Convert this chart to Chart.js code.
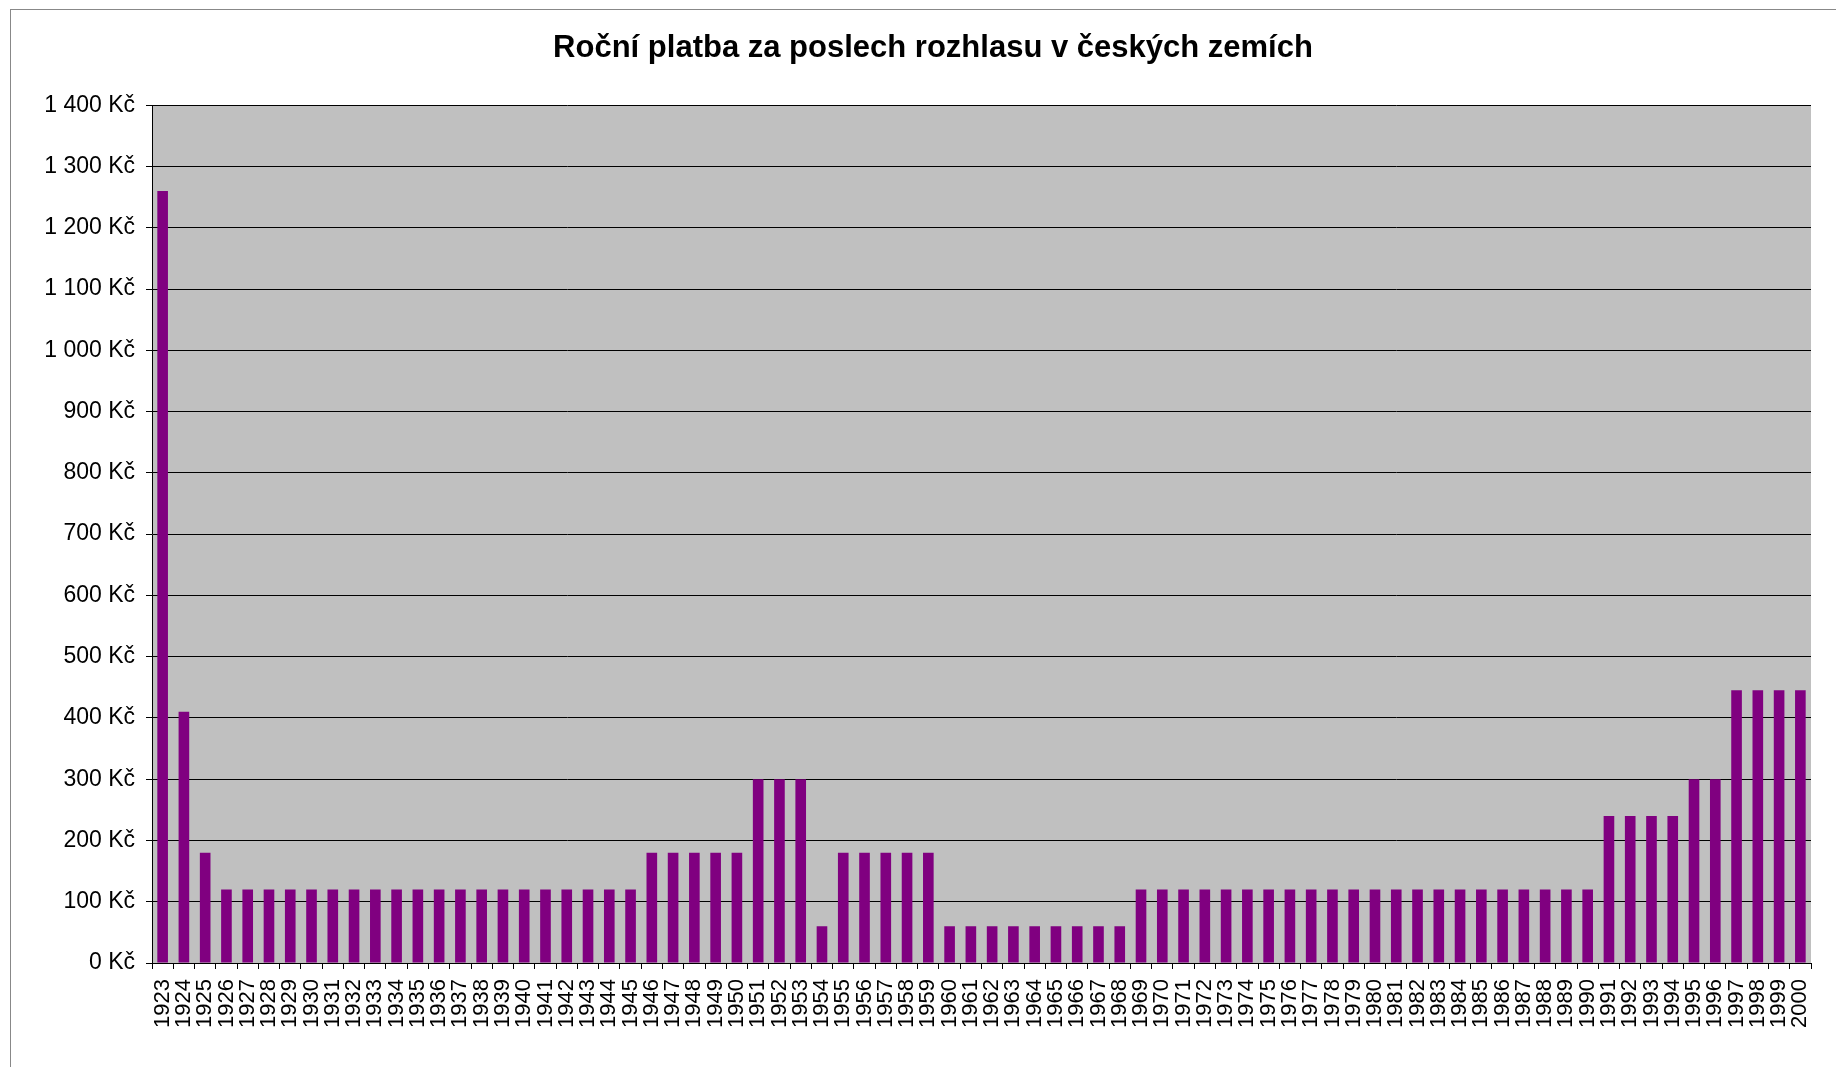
<!DOCTYPE html>
<html>
<head>
<meta charset="utf-8">
<script src="https://cdn.jsdelivr.net/npm/chart.js@4/dist/chart.umd.min.js"></script>
<style>
    html, body { margin: 0; padding: 0; background: #fff; overflow: hidden; }
    #frame {
        position: absolute; left: 10px; top: 9px;
        width: 1846px; height: 1070px;
        border: 1px solid #888;
        box-sizing: border-box;
        overflow: hidden;
    }
    #chart { position: absolute; left: -1px; top: -1px; }
</style>
</head>
<body>
<div id="frame">
    <canvas id="chart" width="1846" height="1058"></canvas>
</div>
<script>
const title = 'Roční platba za poslech rozhlasu v českých zemích';

const years = [
    '1923', '1924', '1925', '1926', '1927', '1928', '1929', '1930', '1931', '1932',
    '1933', '1934', '1935', '1936', '1937', '1938', '1939', '1940', '1941', '1942',
    '1943', '1944', '1945', '1946', '1947', '1948', '1949', '1950', '1951', '1952',
    '1953', '1954', '1955', '1956', '1957', '1958', '1959', '1960', '1961', '1962',
    '1963', '1964', '1965', '1966', '1967', '1968', '1969', '1970', '1971', '1972',
    '1973', '1974', '1975', '1976', '1977', '1978', '1979', '1980', '1981', '1982',
    '1983', '1984', '1985', '1986', '1987', '1988', '1989', '1990', '1991', '1992',
    '1993', '1994', '1995', '1996', '1997', '1998', '1999', '2000'
];

// Kč per year
const fees = [
    1260, 410, 180, 120, 120, 120, 120, 120, 120, 120,
    120, 120, 120, 120, 120, 120, 120, 120, 120, 120,
    120, 120, 120, 180, 180, 180, 180, 180, 300, 300,
    300, 60, 180, 180, 180, 180, 180, 60, 60, 60,
    60, 60, 60, 60, 60, 60, 120, 120, 120, 120,
    120, 120, 120, 120, 120, 120, 120, 120, 120, 120,
    120, 120, 120, 120, 120, 120, 120, 120, 240, 240,
    240, 240, 300, 300, 445, 445, 445, 445
];

const yMin = 0;
const yMax = 1400;
const yStep = 100;

const FONT = "'Liberation Sans', Arial, sans-serif";

function formatKc(v) {
    return String(v).replace(/\B(?=(\d{3})+(?!\d))/g, ' ') + ' Kč';
}

// grey plot area like the Excel chart
const plotBackground = {
    id: 'plotBackground',
    beforeDraw(chart) {
        const { ctx, chartArea } = chart;
        ctx.save();
        ctx.fillStyle = '#C0C0C0';
        ctx.fillRect(chartArea.left, chartArea.top,
            chartArea.right - chartArea.left, chartArea.bottom - chartArea.top);
        ctx.restore();
    }
};

const ctx = document.getElementById('chart').getContext('2d');

new Chart(ctx, {
    type: 'bar',
    data: {
        labels: years,
        datasets: [{
            data: fees,
            backgroundColor: '#800080',
            borderWidth: 0,
            barPercentage: 0.5,
            categoryPercentage: 1.0
        }]
    },
    options: {
        responsive: false,
        animation: false,
        devicePixelRatio: 1,
        layout: {
            padding: 0
        },
        plugins: {
            legend: { display: false },
            tooltip: { enabled: false },
            title: {
                display: true,
                text: title,
                color: '#000',
                font: { family: FONT, size: 31, weight: 'bold', lineHeight: 1.2 },
                padding: { top: 21, bottom: 38 }
            }
        },
        scales: {
            x: {
                afterFit: scale => { scale.height = 104; },
                grid: {
                    display: true,
                    drawOnChartArea: false,
                    drawTicks: true,
                    tickLength: 6,
                    offset: true,
                    color: '#000'
                },
                border: { display: true, color: '#000', width: 1 },
                ticks: {
                    autoSkip: false,
                    minRotation: 90,
                    maxRotation: 90,
                    padding: 10,
                    color: '#000',
                    font: { family: FONT, size: 22 }
                }
            },
            y: {
                min: yMin,
                max: yMax,
                afterFit: scale => { scale.width = 142; },
                grid: {
                    color: '#000',
                    lineWidth: 1,
                    tickLength: 6
                },
                border: { display: true, color: '#000', width: 1 },
                ticks: {
                    stepSize: yStep,
                    padding: 11,
                    color: '#000',
                    font: { family: FONT, size: 23 },
                    callback: v => formatKc(v)
                }
            },
            // empty right margin so the title stays centred on the whole frame
            spacer: {
                type: 'linear',
                position: 'right',
                afterFit: scale => { scale.width = 45; },
                grid: { display: false },
                border: { display: false },
                ticks: { display: false }
            }
        }
    },
    plugins: [plotBackground]
});
</script>
</body>
</html>
